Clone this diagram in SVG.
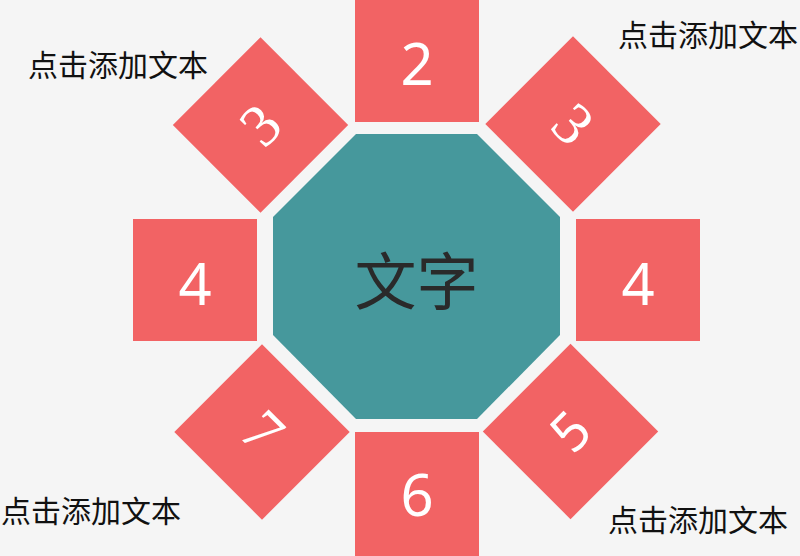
<svg xmlns="http://www.w3.org/2000/svg" width="800" height="556" viewBox="0 0 800 556">
<style>
.sq{fill:#f26364}
.oct{fill:#46989c}
.num{fill:#ffffff;font-family:"Noto Sans","Liberation Sans",sans-serif;text-anchor:middle}
.ser{fill:#ffffff;font-family:"Liberation Serif","DejaVu Serif",serif;text-anchor:middle}
.lbl{fill:#111111;font-family:"Noto Sans CJK SC",sans-serif;font-size:30px}
</style>
<rect x="0" y="0" width="800" height="556" fill="#f5f5f5"/>
<g id="center">
<polygon class="oct" points="356,134 477,134 560,217 560,335 477,419 356,419 273,335 273,217"/>
<text x="416.5" y="277.5" dominant-baseline="central" text-anchor="middle" font-family="Noto Sans CJK SC, sans-serif" font-size="62" fill="#2a2a2a">文字</text>
</g>
<g id="node-top">
<rect class="sq" x="355" y="0" width="124" height="122"/>
<text class="num" x="417" y="85" font-size="58">2</text>
</g>
<g id="node-bottom">
<rect class="sq" x="355" y="432" width="124" height="124"/>
<text class="num" x="417" y="516" font-size="58">6</text>
</g>
<g id="node-left">
<rect class="sq" x="133" y="219" width="124" height="122"/>
<text class="num" x="195" y="305" font-size="58">4</text>
</g>
<g id="node-right">
<rect class="sq" x="576" y="219" width="124" height="122"/>
<text class="num" x="638" y="305" font-size="58">4</text>
</g>
<g id="node-tl" transform="translate(260.5,125) rotate(-45)">
<rect class="sq" x="-62" y="-62" width="124" height="124"/>
<text class="ser" x="0" y="20" font-size="60">3</text>
</g>
<g id="node-tr" transform="translate(573,124) rotate(45)">
<rect class="sq" x="-62" y="-62" width="124" height="124"/>
<text class="ser" x="0" y="20" font-size="60">3</text>
</g>
<g id="node-bl" transform="translate(262,432) rotate(45)">
<rect class="sq" x="-62" y="-62" width="124" height="124"/>
<text class="ser" x="0" y="20" font-size="62">7</text>
</g>
<g id="node-br" transform="translate(570.5,431.5) rotate(-45)">
<rect class="sq" x="-62" y="-62" width="124" height="124"/>
<text class="num" x="0" y="19" font-size="54">5</text>
</g>
<g id="labels">
<text class="lbl" x="28" y="62.5" dominant-baseline="central">点击添加文本</text>
<text class="lbl" x="618" y="32.5" dominant-baseline="central">点击添加文本</text>
<text class="lbl" x="1" y="509" dominant-baseline="central">点击添加文本</text>
<text class="lbl" x="608" y="518" dominant-baseline="central">点击添加文本</text>
</g>
<g id="connectors"/>
</svg>
